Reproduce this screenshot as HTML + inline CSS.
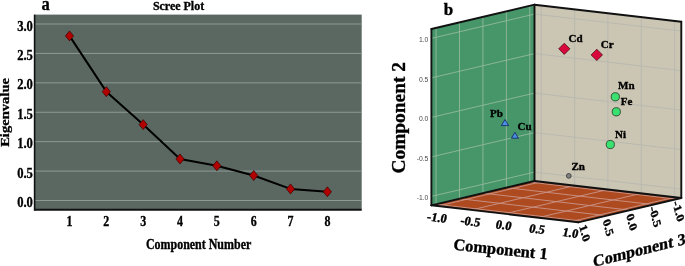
<!DOCTYPE html>
<html><head><meta charset="utf-8"><style>
html,body{margin:0;padding:0;background:#fff;}
body{width:685px;height:266px;overflow:hidden;}
svg{display:block;will-change:transform;}
text{fill:#000;} .bt{stroke:#000;stroke-width:0.35px;}
</style></head><body>
<svg width="685" height="266" viewBox="0 0 685 266">
<rect x="34.6" y="14.6" width="327.09999999999997" height="195.0" fill="#5b6862"/>
<line x1="34.6" x2="361.7" y1="200.50" y2="200.50" stroke="#8d9a93" stroke-width="1"/>
<line x1="34.6" x2="361.7" y1="171.09" y2="171.09" stroke="#8d9a93" stroke-width="1"/>
<line x1="34.6" x2="361.7" y1="141.67" y2="141.67" stroke="#8d9a93" stroke-width="1"/>
<line x1="34.6" x2="361.7" y1="112.25" y2="112.25" stroke="#8d9a93" stroke-width="1"/>
<line x1="34.6" x2="361.7" y1="82.84" y2="82.84" stroke="#8d9a93" stroke-width="1"/>
<line x1="34.6" x2="361.7" y1="53.43" y2="53.43" stroke="#8d9a93" stroke-width="1"/>
<line x1="34.6" x2="361.7" y1="24.01" y2="24.01" stroke="#8d9a93" stroke-width="1"/>
<line x1="34.6" x2="34.6" y1="14.6" y2="210.5" stroke="#111" stroke-width="1.6"/>
<line x1="34" x2="361.7" y1="209.7" y2="209.7" stroke="#111" stroke-width="2"/>
<polyline points="69.50,35.89 106.34,91.66 143.18,124.61 180.02,158.97 216.86,165.79 253.70,175.50 290.54,188.91 327.38,191.79" fill="none" stroke="#000" stroke-width="2" stroke-linejoin="round"/>
<polygon points="69.50,30.89 73.60,35.89 69.50,40.89 65.40,35.89" fill="#b00000" stroke="#3a0000" stroke-width="0.7"/>
<polygon points="106.34,86.66 110.44,91.66 106.34,96.66 102.24,91.66" fill="#b00000" stroke="#3a0000" stroke-width="0.7"/>
<polygon points="143.18,119.61 147.28,124.61 143.18,129.61 139.08,124.61" fill="#b00000" stroke="#3a0000" stroke-width="0.7"/>
<polygon points="180.02,153.97 184.12,158.97 180.02,163.97 175.92,158.97" fill="#b00000" stroke="#3a0000" stroke-width="0.7"/>
<polygon points="216.86,160.79 220.96,165.79 216.86,170.79 212.76,165.79" fill="#b00000" stroke="#3a0000" stroke-width="0.7"/>
<polygon points="253.70,170.50 257.80,175.50 253.70,180.50 249.60,175.50" fill="#b00000" stroke="#3a0000" stroke-width="0.7"/>
<polygon points="290.54,183.91 294.64,188.91 290.54,193.91 286.44,188.91" fill="#b00000" stroke="#3a0000" stroke-width="0.7"/>
<polygon points="327.38,186.79 331.48,191.79 327.38,196.79 323.28,191.79" fill="#b00000" stroke="#3a0000" stroke-width="0.7"/>
<text transform="translate(32.90,207.00) scale(0.9,1)" text-anchor="end" class="bt" font-family="Liberation Serif" font-weight="bold" font-size="14" >0.0</text>
<text transform="translate(32.90,177.59) scale(0.9,1)" text-anchor="end" class="bt" font-family="Liberation Serif" font-weight="bold" font-size="14" >0.5</text>
<text transform="translate(32.90,148.17) scale(0.9,1)" text-anchor="end" class="bt" font-family="Liberation Serif" font-weight="bold" font-size="14" >1.0</text>
<text transform="translate(32.90,118.75) scale(0.9,1)" text-anchor="end" class="bt" font-family="Liberation Serif" font-weight="bold" font-size="14" >1.5</text>
<text transform="translate(32.90,89.34) scale(0.9,1)" text-anchor="end" class="bt" font-family="Liberation Serif" font-weight="bold" font-size="14" >2.0</text>
<text transform="translate(32.90,59.93) scale(0.9,1)" text-anchor="end" class="bt" font-family="Liberation Serif" font-weight="bold" font-size="14" >2.5</text>
<text transform="translate(32.90,30.51) scale(0.9,1)" text-anchor="end" class="bt" font-family="Liberation Serif" font-weight="bold" font-size="14" >3.0</text>
<text transform="translate(69.50,225.90) scale(0.855,1)" text-anchor="middle" class="bt" font-family="Liberation Serif" font-weight="bold" font-size="14" >1</text>
<text transform="translate(106.34,225.90) scale(0.855,1)" text-anchor="middle" class="bt" font-family="Liberation Serif" font-weight="bold" font-size="14" >2</text>
<text transform="translate(143.18,225.90) scale(0.855,1)" text-anchor="middle" class="bt" font-family="Liberation Serif" font-weight="bold" font-size="14" >3</text>
<text transform="translate(180.02,225.90) scale(0.855,1)" text-anchor="middle" class="bt" font-family="Liberation Serif" font-weight="bold" font-size="14" >4</text>
<text transform="translate(216.86,225.90) scale(0.855,1)" text-anchor="middle" class="bt" font-family="Liberation Serif" font-weight="bold" font-size="14" >5</text>
<text transform="translate(253.70,225.90) scale(0.855,1)" text-anchor="middle" class="bt" font-family="Liberation Serif" font-weight="bold" font-size="14" >6</text>
<text transform="translate(290.54,225.90) scale(0.855,1)" text-anchor="middle" class="bt" font-family="Liberation Serif" font-weight="bold" font-size="14" >7</text>
<text transform="translate(327.38,225.90) scale(0.855,1)" text-anchor="middle" class="bt" font-family="Liberation Serif" font-weight="bold" font-size="14" >8</text>
<text transform="translate(198.60,248.70) scale(0.855,1)" text-anchor="middle" class="bt" font-family="Liberation Serif" font-weight="bold" font-size="14" >Component Number</text>
<text transform="translate(178.50,10.10) scale(0.9,1)" text-anchor="middle" class="bt" font-family="Liberation Serif" font-weight="bold" font-size="13.3" >Scree Plot</text>
<text transform="translate(41.4,10.1) scale(0.87,1)" class="bt" font-family="Liberation Serif" font-weight="bold" font-size="19">a</text>
<text transform="translate(9.0,112.4) rotate(-90) scale(1,0.88)" text-anchor="middle" class="bt" font-family="Liberation Serif" font-weight="bold" font-size="14.6">Eigenvalue</text>
<polygon points="431.40,205.30 534.50,181.00 534.50,4.70 431.40,29.00" fill="#46966a" />
<polygon points="534.50,181.00 681.30,198.00 681.30,21.70 534.50,4.70" fill="#cbc6b3" />
<polygon points="431.40,205.30 534.50,181.00 681.30,198.00 578.20,222.30" fill="#ae4a1f" />
<line x1="529.81" y1="182.10" x2="529.81" y2="5.80" stroke="#92b99c" stroke-width="0.9" />
<line x1="534.50" y1="172.10" x2="431.40" y2="196.40" stroke="#92b99c" stroke-width="0.9" />
<line x1="541.17" y1="181.77" x2="541.17" y2="5.47" stroke="#b8b8b0" stroke-width="0.9" />
<line x1="534.50" y1="172.10" x2="681.30" y2="189.10" stroke="#b8b8b0" stroke-width="0.9" />
<line x1="541.17" y1="181.77" x2="438.07" y2="206.07" stroke="#c9958a" stroke-width="0.9" />
<line x1="529.81" y1="182.10" x2="676.61" y2="199.10" stroke="#c9958a" stroke-width="0.9" />
<line x1="506.38" y1="187.63" x2="506.38" y2="11.33" stroke="#92b99c" stroke-width="0.9" />
<line x1="534.50" y1="132.60" x2="431.40" y2="156.90" stroke="#92b99c" stroke-width="0.9" />
<line x1="574.54" y1="185.64" x2="574.54" y2="9.34" stroke="#b8b8b0" stroke-width="0.9" />
<line x1="534.50" y1="132.60" x2="681.30" y2="149.60" stroke="#b8b8b0" stroke-width="0.9" />
<line x1="574.54" y1="185.64" x2="471.44" y2="209.94" stroke="#c9958a" stroke-width="0.9" />
<line x1="506.38" y1="187.63" x2="653.18" y2="204.63" stroke="#c9958a" stroke-width="0.9" />
<line x1="482.95" y1="193.15" x2="482.95" y2="16.85" stroke="#92b99c" stroke-width="0.9" />
<line x1="534.50" y1="93.10" x2="431.40" y2="117.40" stroke="#92b99c" stroke-width="0.9" />
<line x1="607.90" y1="189.50" x2="607.90" y2="13.20" stroke="#b8b8b0" stroke-width="0.9" />
<line x1="534.50" y1="93.10" x2="681.30" y2="110.10" stroke="#b8b8b0" stroke-width="0.9" />
<line x1="607.90" y1="189.50" x2="504.80" y2="213.80" stroke="#c9958a" stroke-width="0.9" />
<line x1="482.95" y1="193.15" x2="629.75" y2="210.15" stroke="#c9958a" stroke-width="0.9" />
<line x1="459.52" y1="198.67" x2="459.52" y2="22.37" stroke="#92b99c" stroke-width="0.9" />
<line x1="534.50" y1="53.60" x2="431.40" y2="77.90" stroke="#92b99c" stroke-width="0.9" />
<line x1="641.26" y1="193.36" x2="641.26" y2="17.06" stroke="#b8b8b0" stroke-width="0.9" />
<line x1="534.50" y1="53.60" x2="681.30" y2="70.60" stroke="#b8b8b0" stroke-width="0.9" />
<line x1="641.26" y1="193.36" x2="538.16" y2="217.66" stroke="#c9958a" stroke-width="0.9" />
<line x1="459.52" y1="198.67" x2="606.32" y2="215.67" stroke="#c9958a" stroke-width="0.9" />
<line x1="436.09" y1="204.20" x2="436.09" y2="27.90" stroke="#92b99c" stroke-width="0.9" />
<line x1="534.50" y1="14.10" x2="431.40" y2="38.40" stroke="#92b99c" stroke-width="0.9" />
<line x1="674.63" y1="197.23" x2="674.63" y2="20.93" stroke="#b8b8b0" stroke-width="0.9" />
<line x1="534.50" y1="14.10" x2="681.30" y2="31.10" stroke="#b8b8b0" stroke-width="0.9" />
<line x1="674.63" y1="197.23" x2="571.53" y2="221.53" stroke="#c9958a" stroke-width="0.9" />
<line x1="436.09" y1="204.20" x2="582.89" y2="221.20" stroke="#c9958a" stroke-width="0.9" />
<line x1="431.40" y1="205.30" x2="431.40" y2="29.00" stroke="#111" stroke-width="1.9" stroke-linecap="round"/>
<line x1="431.40" y1="29.00" x2="534.50" y2="4.70" stroke="#111" stroke-width="1.9" stroke-linecap="round"/>
<line x1="534.50" y1="4.70" x2="681.30" y2="21.70" stroke="#111" stroke-width="1.9" stroke-linecap="round"/>
<line x1="681.30" y1="21.70" x2="681.30" y2="198.00" stroke="#111" stroke-width="1.9" stroke-linecap="round"/>
<line x1="534.50" y1="181.00" x2="534.50" y2="4.70" stroke="#111" stroke-width="1.9" stroke-linecap="round"/>
<line x1="431.40" y1="205.30" x2="534.50" y2="181.00" stroke="#111" stroke-width="1.9" stroke-linecap="round"/>
<line x1="534.50" y1="181.00" x2="681.30" y2="198.00" stroke="#111" stroke-width="1.9" stroke-linecap="round"/>
<line x1="431.40" y1="205.30" x2="578.20" y2="222.30" stroke="#111" stroke-width="1.9" stroke-linecap="round"/>
<line x1="578.20" y1="222.30" x2="681.30" y2="198.00" stroke="#111" stroke-width="1.9" stroke-linecap="round"/>
<text x="428.4" y="200.10" text-anchor="end" font-family="Liberation Sans" font-size="6.8" style="fill:#4a4a4a">-1.0</text>
<text x="428.4" y="160.60" text-anchor="end" font-family="Liberation Sans" font-size="6.8" style="fill:#4a4a4a">-0.5</text>
<text x="428.4" y="121.10" text-anchor="end" font-family="Liberation Sans" font-size="6.8" style="fill:#4a4a4a">0.0</text>
<text x="428.4" y="81.60" text-anchor="end" font-family="Liberation Sans" font-size="6.8" style="fill:#4a4a4a">0.5</text>
<text x="428.4" y="42.10" text-anchor="end" font-family="Liberation Sans" font-size="6.8" style="fill:#4a4a4a">1.0</text>
<polygon points="564.30,43.20 569.90,48.80 564.30,54.40 558.70,48.80" fill="#d8083c" stroke="#400010" stroke-width="0.7"/>
<polygon points="596.80,49.20 602.50,54.90 596.80,60.60 591.10,54.90" fill="#d8083c" stroke="#400010" stroke-width="0.7"/>
<circle cx="615.3" cy="96.8" r="4.1" fill="#3ae070" stroke="#1a3a20" stroke-width="0.8"/>
<circle cx="616.3" cy="111.8" r="4.1" fill="#3ae070" stroke="#1a3a20" stroke-width="0.8"/>
<circle cx="610.3" cy="144.5" r="4.1" fill="#3ae070" stroke="#1a3a20" stroke-width="0.8"/>
<circle cx="568.8" cy="175.9" r="2.4" fill="#808080" stroke="#333" stroke-width="0.8"/>
<polygon points="505.00,119.50 508.70,125.60 501.30,125.60" fill="#4a90e8" stroke="#10205a" stroke-width="0.8" stroke-linejoin="round"/>
<polygon points="514.90,132.30 518.40,138.20 511.40,138.20" fill="#4a90e8" stroke="#10205a" stroke-width="0.8" stroke-linejoin="round"/>
<text x="568.5" y="41.7" class="bt" font-family="Liberation Serif" font-weight="bold" font-size="11">Cd</text>
<text x="600.7" y="48" class="bt" font-family="Liberation Serif" font-weight="bold" font-size="11">Cr</text>
<text x="618.0" y="89" class="bt" font-family="Liberation Serif" font-weight="bold" font-size="11">Mn</text>
<text x="620.7" y="104.8" class="bt" font-family="Liberation Serif" font-weight="bold" font-size="11">Fe</text>
<text x="615.0" y="137.6" class="bt" font-family="Liberation Serif" font-weight="bold" font-size="11">Ni</text>
<text x="490.0" y="117.3" class="bt" font-family="Liberation Serif" font-weight="bold" font-size="11">Pb</text>
<text x="517.5" y="129.8" class="bt" font-family="Liberation Serif" font-weight="bold" font-size="11">Cu</text>
<text x="571.4000000000001" y="170.2" class="bt" font-family="Liberation Serif" font-weight="bold" font-size="11">Zn</text>
<text x="443.8" y="15.2" class="bt" font-family="Liberation Serif" font-weight="bold" font-size="17">b</text>
<text transform="translate(405.0,117.8) rotate(-90) scale(1,0.95)" text-anchor="middle" class="bt" font-family="Liberation Serif" font-weight="bold" font-size="19.4">Component 2</text>
<text transform="matrix(1,0.12,-0.22,1,436.17,221.57)" text-anchor="middle" class="bt" font-family="Liberation Serif" font-weight="bold" font-size="12.5">-1.0</text>
<text transform="matrix(1,0.12,-0.22,1,469.54,225.44)" text-anchor="middle" class="bt" font-family="Liberation Serif" font-weight="bold" font-size="12.5">-0.5</text>
<text transform="matrix(1,0.12,-0.22,1,502.90,229.30)" text-anchor="middle" class="bt" font-family="Liberation Serif" font-weight="bold" font-size="12.5">0.0</text>
<text transform="matrix(1,0.12,-0.22,1,536.26,233.16)" text-anchor="middle" class="bt" font-family="Liberation Serif" font-weight="bold" font-size="12.5">0.5</text>
<text transform="matrix(1,0.12,-0.22,1,569.63,237.03)" text-anchor="middle" class="bt" font-family="Liberation Serif" font-weight="bold" font-size="12.5">1.0</text>
<text transform="matrix(0.25,0.97,-0.80,0.34,675.11,212.50)" text-anchor="middle" class="bt" font-family="Liberation Serif" font-weight="bold" font-size="13.2">-1.0</text>
<text transform="matrix(0.25,0.97,-0.80,0.34,651.68,218.03)" text-anchor="middle" class="bt" font-family="Liberation Serif" font-weight="bold" font-size="13.2">-0.5</text>
<text transform="matrix(0.25,0.97,-0.80,0.34,628.25,223.55)" text-anchor="middle" class="bt" font-family="Liberation Serif" font-weight="bold" font-size="13.2">0.0</text>
<text transform="matrix(0.25,0.97,-0.80,0.34,604.82,229.07)" text-anchor="middle" class="bt" font-family="Liberation Serif" font-weight="bold" font-size="13.2">0.5</text>
<text transform="matrix(0.25,0.97,-0.80,0.34,581.39,234.60)" text-anchor="middle" class="bt" font-family="Liberation Serif" font-weight="bold" font-size="13.2">1.0</text>
<text transform="matrix(1,0.103,-0.1,1,500,254.6)" text-anchor="middle" class="bt" font-family="Liberation Serif" font-weight="bold" font-size="16.4">Component 1</text>
<text transform="matrix(0.98,-0.245,0.05,1,639.5,255.5)" text-anchor="middle" class="bt" font-family="Liberation Serif" font-weight="bold" font-size="16.4">Component 3</text>
</svg>
</body></html>
